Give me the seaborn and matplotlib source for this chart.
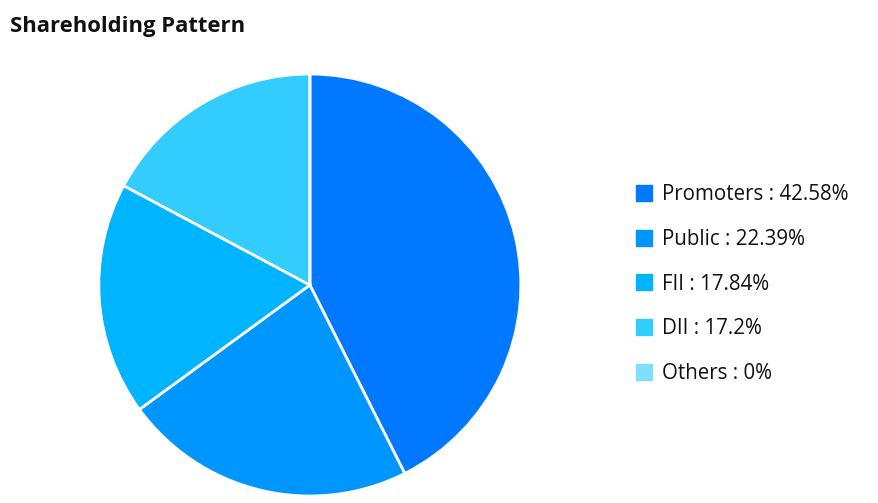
import matplotlib
matplotlib.use('Agg')
import matplotlib.pyplot as plt
from matplotlib.lines import Line2D
import seaborn as sns

labels = ['Promoters', 'Public', 'FII', 'DII', 'Others']
values = [42.58, 22.39, 17.84, 17.2, 0]
colors = ['#0078ff', '#0096ff', '#00b4ff', '#33ccff', '#80deff']

sns.set_theme(style='white')
plt.rcParams['font.family'] = ['Open Sans', 'DejaVu Sans']

fig = plt.figure(figsize=(8.79, 5.03), dpi=100)
ax = fig.add_axes([0.1115, 0.0139, 0.482, 0.839])
ax.pie(values, colors=colors, startangle=90, counterclock=False, radius=1,
       wedgeprops=dict(edgecolor='white', linewidth=2))
ax.set_xlim(-1, 1)
ax.set_ylim(-1, 1)
ax.set_aspect('equal')

handles = [Line2D([], [], marker='s', linestyle='', markersize=11,
                  markerfacecolor=c, markeredgecolor=c) for c in colors]
leg_labels = [f'{l} : {v:g}%' for l, v in zip(labels, values)]
leg = fig.legend(handles, leg_labels, loc='upper left', bbox_to_anchor=(0.712, 0.650),
                 frameon=False, fontsize=14.8, labelspacing=1.15, handletextpad=0.35,
                 handlelength=1.0, borderaxespad=0)
for t in leg.get_texts():
    t.set_color('#111111')

fig.text(0.011, 0.948, 'Shareholding Pattern', fontsize=15.8, fontweight='bold',
         va='center', ha='left', color='#111111')

fig.savefig('out.png', dpi=100)
